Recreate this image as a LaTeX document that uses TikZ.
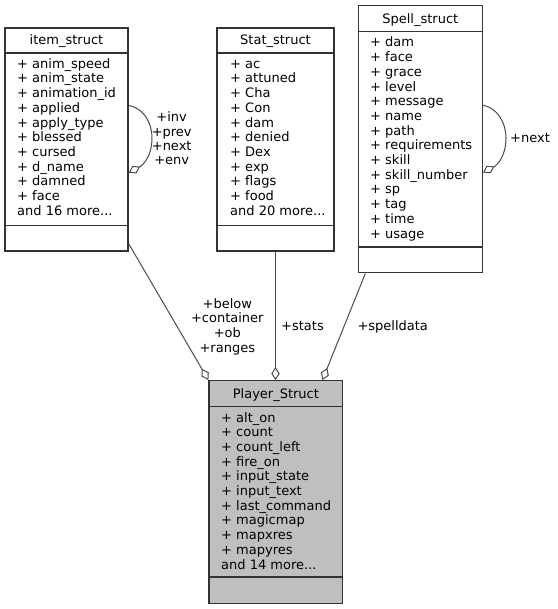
\documentclass[tikz,border=0pt]{standalone}
\usepackage{fontspec}
\setmainfont{DejaVu Sans}
\usetikzlibrary{arrows.meta,calc}
\newcommand\mored{...}
\newcommand\fieldlist[4]{\foreach \ftext [count=\i] in {#4} {\node[fld] (#1\i) at (#2,{#3+(\i-1)*14.7}) {\ftext};}}
\tikzset{
  box/.style={draw=black!80, line width=1.3pt, inner sep=0pt},
  sepline/.style={draw=black!80, line width=1.3pt},
  fld/.style={anchor=base west, inner sep=0pt, font=\fontsize{13}{14.7}\selectfont},
  ttl/.style={anchor=base, inner sep=0pt, font=\fontsize{13}{14.7}\selectfont},
  lbl/.style={anchor=base, inner sep=0pt, font=\fontsize{13}{14.7}\selectfont},
  lblw/.style={anchor=base west, inner sep=0pt, font=\fontsize{13}{14.7}\selectfont},
  edge/.style={draw=black!70, line width=1pt},
  agg/.style={-{Diamond[open,length=13pt,width=8.5pt]}},
}
\begin{document}
\begin{tikzpicture}[x=1pt,y=-1pt]
\useasboundingbox (0,0) rectangle (557,609);
% boxes
\node[box, minimum width=123pt, minimum height=223pt] (item) at (66.5,139.5) {};
\node[box, minimum width=117pt, minimum height=223pt] (stat) at (275.5,139.5) {};
\node[box, minimum width=124pt, minimum height=267pt] (spell) at (420.3,139.3) {};
\node[box, fill=black!25, minimum width=133.7pt, minimum height=222.6pt] (player) at (275.9,492) {};
% separators
\draw[sepline] (item.west |- 0,53) -- (item.east |- 0,53);
\draw[sepline] (item.west |- 0,225.7) -- (item.east |- 0,225.7);
\draw[sepline] (stat.west |- 0,53) -- (stat.east |- 0,53);
\draw[sepline] (stat.west |- 0,225.7) -- (stat.east |- 0,225.7);
\draw[sepline] (spell.west |- 0,31.7) -- (spell.east |- 0,31.7);
\draw[sepline] (spell.west |- 0,247) -- (spell.east |- 0,247);
\draw[sepline] (player.west |- 0,406.7) -- (player.east |- 0,406.7);
\draw[sepline] (player.west |- 0,577) -- (player.east |- 0,577);
% titles
\node[ttl] (itemt) at (66.5,44.5) {item\_struct};
\node[ttl] (statt) at (275.5,44.5) {Stat\_struct};
\node[ttl] (spellt) at (420.3,23.2) {Spell\_struct};
\node[ttl] (playert) at (275.9,398.2) {Player\_Struct};
% fields
\fieldlist{itemf}{17}{68.3}{+ anim\_speed,+ anim\_state,+ animation\_id,+ applied,+ apply\_type,+ blessed,+ cursed,+ d\_name,+ damned,+ face,and 16 more\mored}
\fieldlist{statf}{230}{68.3}{+ ac,+ attuned,+ Cha,+ Con,+ dam,+ denied,+ Dex,+ exp,+ flags,+ food,and 20 more\mored}
\fieldlist{spellf}{370}{47}{+ dam,+ face,+ grace,+ level,+ message,+ name,+ path,+ requirements,+ skill,+ skill\_number,+ sp,+ tag,+ time,+ usage}
\fieldlist{playerf}{221}{422}{+ alt\_on,+ count,+ count\_left,+ fire\_on,+ input\_state,+ input\_text,+ last\_command,+ magicmap,+ mapxres,+ mapyres,and 14 more\mored}
% self loops
\coordinate (il1) at ($(item.north east)+(0,78)$);
\coordinate (il2) at ($(item.north east)+(12.4,138.8)$);
\coordinate (il3) at ($(item.north east)+(0,145.4)$);
\draw[edge] (il1) .. controls (143,108) and (152,122) .. (152,138) .. controls (152,150) and (148,160) .. (il2);
\draw[edge,agg] (il2) -- (il3);
\coordinate (sl1) at ($(spell.north east)+(0,100)$);
\coordinate (sl2) at ($(spell.north east)+(12.4,160.8)$);
\coordinate (sl3) at ($(spell.north east)+(0,167.4)$);
\draw[edge] (sl1) .. controls (497,108) and (506,122) .. (506,138) .. controls (506,150) and (502,160) .. (sl2);
\draw[edge,agg] (sl2) -- (sl3);
% aggregation edges
\draw[edge,agg] ($(item.south east)+(0,-8)$) -- (player.north west);
\draw[edge,agg] (stat.south) -- (stat.south |- player.north);
\draw[edge,agg] ($(spell.south west)+(7.7,0)$) -- ($(player.north east)+(-21,0)$);
% labels
\node[lbl] (li1) at (171.7,122) {+inv};
\node[lbl] (li2) at (171.7,136.2) {+prev};
\node[lbl] (li3) at (171.7,150.4) {+next};
\node[lbl] (li4) at (171.7,164.6) {+env};
\node[lblw] (ls1) at (510,142.8) {+next};
\node[lbl] (lb1) at (227.3,308) {+below};
\node[lbl] (lb2) at (227.3,322.7) {+container};
\node[lbl] (lb3) at (227.3,337.4) {+ob};
\node[lbl] (lb4) at (227.3,352.1) {+ranges};
\node[lblw] (lst) at (281,330.3) {+stats};
\node[lblw] (lsd) at (357.3,330.3) {+spelldata};
\end{tikzpicture}
\end{document}
